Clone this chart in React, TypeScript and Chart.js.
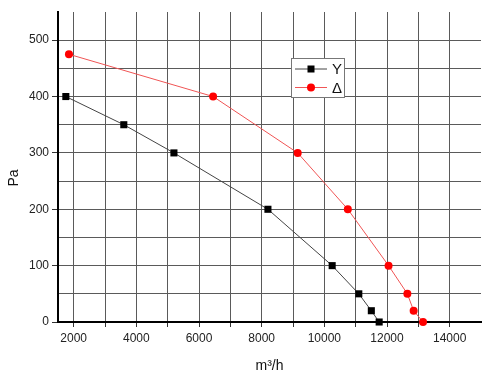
import React, { useEffect, useRef } from "react";
import { Chart, registerables } from "chart.js";
Chart.register(...registerables);

// Star connection (Y)
const starFlow = [1750, 3600, 5200, 8200, 10250, 11100, 11500, 11750];
const starPressure = [400, 350, 300, 200, 100, 50, 20, 0];
// Delta connection (Δ)
const deltaFlow = [1850, 6450, 9150, 10750, 12050, 12650, 12850, 13150];
const deltaPressure = [475, 400, 300, 200, 100, 50, 20, 0];

const seriesNames = ["Y", "Δ"];
const xTickValues = [2000, 3000, 4000, 5000, 6000, 7000, 8000, 9000, 10000, 11000, 12000, 13000, 14000];
const xTickLabels = ["2000", "", "4000", "", "6000", "", "8000", "", "10000", "", "12000", "", "14000"];
const yTickValues = [0, 50, 100, 150, 200, 250, 300, 350, 400, 450, 500];
const yTickLabels = ["0", "", "100", "", "200", "", "300", "", "400", "", "500"];
const xTitle = "m³/h";
const yTitle = "Pa";

const FONT = "'Liberation Sans', Arial, sans-serif";
const LINE_COLORS = ["#444", "#f05555"];
const MARK_COLORS = ["#000", "#ff0000"];

const legendPlugin = {
  id: "customLegend",
  afterDraw(chart: any) {
    const { ctx, chartArea } = chart;
    const left = chartArea.left + 233;
    const top = chartArea.top + 46;
    const w = 53;
    const h = 39;
    ctx.save();
    ctx.fillStyle = "#fff";
    ctx.fillRect(left, top, w, h);
    ctx.strokeStyle = "#777";
    ctx.lineWidth = 1;
    ctx.strokeRect(left + 0.5, top + 0.5, w, h);
    seriesNames.forEach((name, i) => {
      const y = top + 11 + i * 18.5;
      ctx.strokeStyle = LINE_COLORS[i];
      ctx.lineWidth = 1;
      ctx.beginPath();
      ctx.moveTo(left + 4, y);
      ctx.lineTo(left + 36, y);
      ctx.stroke();
      ctx.fillStyle = MARK_COLORS[i];
      if (i === 0) {
        ctx.fillRect(left + 20 - 3.5, y - 3.5, 7, 7);
      } else {
        ctx.beginPath();
        ctx.arc(left + 20, y, 4, 0, Math.PI * 2);
        ctx.fill();
      }
      ctx.fillStyle = "#111";
      ctx.font = `15px ${FONT}`;
      ctx.textBaseline = "middle";
      ctx.textAlign = "left";
      ctx.fillText(name, left + 41, y + 1);
    });
    ctx.restore();
  },
};

const titlePlugin = {
  id: "axisTitles",
  afterDraw(chart: any) {
    const { ctx, chartArea } = chart;
    ctx.save();
    ctx.fillStyle = "#111";
    ctx.font = `14px ${FONT}`;
    ctx.textAlign = "center";
    ctx.textBaseline = "middle";
    ctx.fillText(xTitle, (chartArea.left + chartArea.right) / 2, 366);
    ctx.translate(14, 178);
    ctx.rotate(-Math.PI / 2);
    ctx.fillText(yTitle, 0, 0);
    ctx.restore();
  },
};

export default function App() {
  const ref = useRef<HTMLCanvasElement | null>(null);
  useEffect(() => {
    document.body.style.margin = "0";
    if (!ref.current) return;
    const chart = new Chart(ref.current, {
      type: "scatter",
      data: {
        datasets: [
          {
            label: seriesNames[0],
            data: starFlow.map((x, i) => ({ x, y: starPressure[i] })),
            showLine: true,
            borderColor: LINE_COLORS[0],
            borderWidth: 1,
            pointStyle: "rect",
            pointRadius: 5,
            pointBackgroundColor: MARK_COLORS[0],
            pointBorderColor: MARK_COLORS[0],
            pointBorderWidth: 0,
            clip: false,
          } as any,
          {
            label: seriesNames[1],
            data: deltaFlow.map((x, i) => ({ x, y: deltaPressure[i] })),
            showLine: true,
            borderColor: LINE_COLORS[1],
            borderWidth: 1,
            pointStyle: "circle",
            pointRadius: 4,
            pointBackgroundColor: MARK_COLORS[1],
            pointBorderColor: MARK_COLORS[1],
            pointBorderWidth: 0,
            clip: false,
          } as any,
        ],
      },
      options: {
        responsive: false,
        animation: false,
        layout: { padding: { left: 0, right: 19, top: 12, bottom: 0 } },
        plugins: { legend: { display: false }, tooltip: { enabled: false } },
        scales: {
          x: {
            type: "linear",
            min: 1500,
            max: 15000,
            afterBuildTicks: (scale: any) => {
              scale.ticks = xTickValues.map((v) => ({ value: v }));
            },
            afterFit: (scale: any) => {
              scale.height = 67;
            },
            ticks: {
              autoSkip: false,
              maxRotation: 0,
              padding: 4,
              color: "#222",
              font: { family: FONT, size: 12 },
              callback: (_v: any, i: number) => xTickLabels[i],
            },
            grid: { color: "#5a5a5a", lineWidth: 1, tickLength: 5, tickColor: "#333" },
            border: { color: "#000", width: 2 },
          },
          y: {
            type: "linear",
            min: 0,
            max: 550,
            afterBuildTicks: (scale: any) => {
              scale.ticks = yTickValues.map((v) => ({ value: v }));
            },
            afterFit: (scale: any) => {
              scale.width = 58;
            },
            ticks: {
              autoSkip: false,
              padding: 3,
              color: "#222",
              font: { family: FONT, size: 12 },
              callback: (_v: any, i: number) => yTickLabels[i],
            },
            grid: {
              color: "#5a5a5a",
              lineWidth: 1,
              tickLength: 6,
              tickColor: (c: any) => (yTickLabels[c.index] ? "#333" : "rgba(0,0,0,0)"),
            },
            border: { color: "#000", width: 2 },
          },
        },
      },
      plugins: [legendPlugin, titlePlugin],
    } as any);
    return () => chart.destroy();
  }, []);
  return (
    <div style={{ position: "absolute", left: 0, top: 0, width: 500, height: 389, background: "#fff" }}>
      <canvas ref={ref} width={500} height={389} style={{ width: 500, height: 389 }} />
    </div>
  );
}
